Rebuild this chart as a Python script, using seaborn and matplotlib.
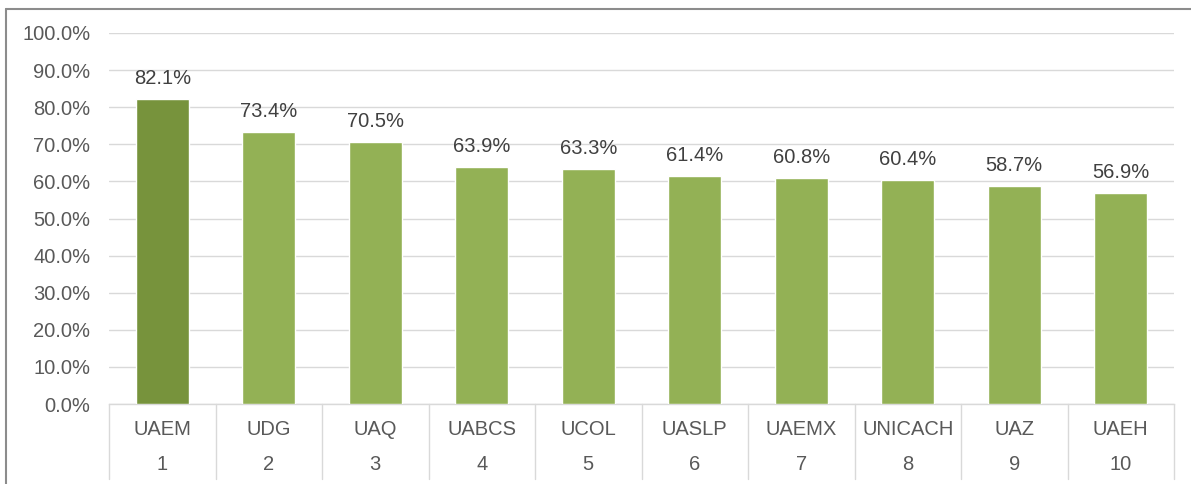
import matplotlib
matplotlib.use("Agg")
import matplotlib.pyplot as plt
import matplotlib.transforms as mtrans
from matplotlib.lines import Line2D
from matplotlib.ticker import FuncFormatter, MultipleLocator
import seaborn as sns
import pandas as pd

# data
universities = ["UAEM", "UDG", "UAQ", "UABCS", "UCOL", "UASLP", "UAEMX", "UNICACH", "UAZ", "UAEH"]
ranks = ["1", "2", "3", "4", "5", "6", "7", "8", "9", "10"]
shares = [82.1, 73.4, 70.5, 63.9, 63.3, 61.4, 60.8, 60.4, 58.7, 56.9]

dark_green = "#77933C"
light_green = "#93B155"
bar_colors = [dark_green] + [light_green] * (len(universities) - 1)

df = pd.DataFrame({"univ": universities, "share": shares})

sns.set_theme(style="white")
plt.rcParams["font.family"] = ["Liberation Sans", "DejaVu Sans"]

text_gray = "#595959"
grid_gray = "#D9D9D9"
fs = 14.5

fig = plt.figure(figsize=(11.91, 4.84), dpi=100)
ax = fig.add_axes([109 / 1191, 1 - 404 / 484, (1174 - 109) / 1191, (404 - 33) / 484])

sns.barplot(data=df, x="univ", y="share", hue="univ", palette=bar_colors,
            legend=False, width=0.5, saturation=1, ax=ax, zorder=3)

ax.set_ylim(0, 100)
ax.set_xlim(-0.5, len(universities) - 0.5)
ax.yaxis.set_major_locator(MultipleLocator(10))
ax.yaxis.set_major_formatter(FuncFormatter(lambda v, p: f"{v:.1f}%"))
ax.grid(axis="y", color=grid_gray, lw=1, zorder=0)
ax.set_axisbelow(True)
for s in ["left", "right", "top"]:
    ax.spines[s].set_visible(False)
ax.spines["bottom"].set_color(grid_gray)
ax.spines["bottom"].set_linewidth(1)
ax.set_xlabel("")
ax.set_ylabel("")
ax.set_xticks([])
ax.tick_params(axis="y", length=0, pad=13.5, labelsize=fs, labelcolor=text_gray)

# data labels
for i, v in enumerate(shares):
    ax.annotate(f"{v:.1f}%", (i, v), xytext=(0, 8), textcoords="offset points",
                ha="center", va="bottom", fontsize=fs, color="#404040")

# two-level category axis
trans = mtrans.blended_transform_factory(ax.transData, ax.transAxes)
for i, (u, r) in enumerate(zip(universities, ranks)):
    ax.text(i, -0.070, u, transform=trans, ha="center", va="center",
            fontsize=fs, color=text_gray, clip_on=False)
    ax.text(i, -0.164, r, transform=trans, ha="center", va="center",
            fontsize=fs, color=text_gray, clip_on=False)
for b in range(len(universities) + 1):
    ax.add_line(Line2D([b - 0.5, b - 0.5], [0, -0.202], transform=trans,
                       color=grid_gray, lw=1, clip_on=False))

# outer chart frame
fig.add_artist(Line2D([6 / 1191, 6 / 1191], [0, 1 - 8.5 / 484], transform=fig.transFigure,
                      color="#8C8C8C", lw=1.5))
fig.add_artist(Line2D([6 / 1191, 1], [1 - 8.5 / 484, 1 - 8.5 / 484], transform=fig.transFigure,
                      color="#8C8C8C", lw=1.5))

fig.savefig("out.png", dpi=100, facecolor="white")
